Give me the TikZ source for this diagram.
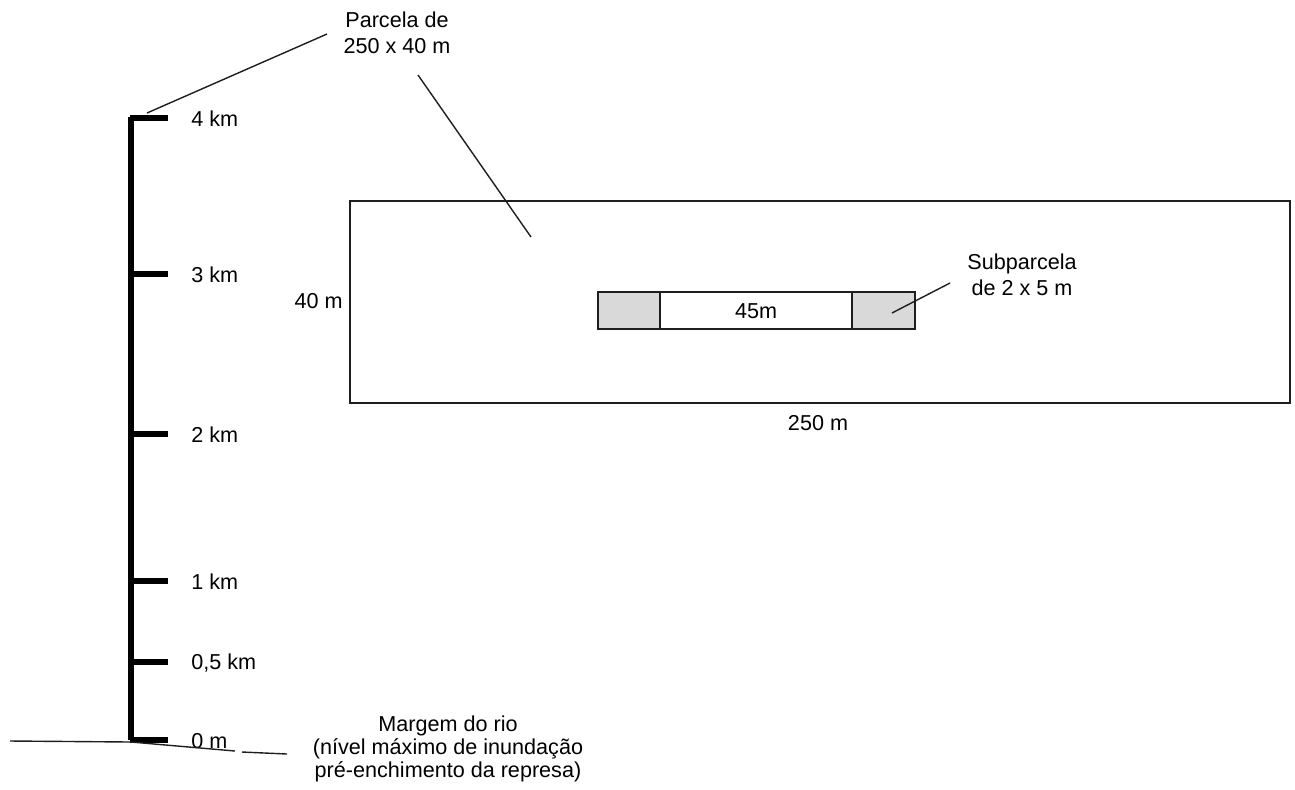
\documentclass[tikz,border=0pt]{standalone}
\usepackage{fontspec}
\setmainfont{Liberation Sans}
\usepackage{xcolor}
\definecolor{subgray}{RGB}{217,217,217}
\definecolor{inkline}{RGB}{30,30,30}

\begin{document}
\begin{tikzpicture}[x=0.5pt,y=-0.5pt,
    every node/.style={font=\fontsize{10.8}{12.8}\selectfont, inner sep=1pt},
    axisline/.style={line width=2.8pt},
    thin line/.style={draw=inkline, line width=0.7pt},
    subbox/.style={thin line, fill=subgray}
    ]
    \useasboundingbox (0,0) rectangle (1295,789);
    % eixo de distancias
    \draw[axisline] (131,740) -- (131,116.5);
    \foreach \y/\txt/\nm in {118/4 km/t4, 274/3 km/t3, 434/2 km/t2,
                             581/1 km/t1, 662/{0,5 km}/th, 740/0 m/t0}
        {
            \draw[axisline] (130,\y) -- (168,\y);
            \node[anchor=west] (\nm) at (189,\y+1) {\txt};
        }
    % margem do rio
    \coordinate (g1) at (10,741);
    \coordinate (g2) at (131,742);
    \coordinate (g3) at (235,751);
    \coordinate (g4) at (242,752);
    \coordinate (g5) at (287,754);
    \draw[thin line] (g1) -- (g2) -- (g3);
    \draw[thin line] (g4) -- (g5);
    \node[align=center, font=\fontsize{10.8}{11.6}\selectfont] (margem) at (448,749)
        {Margem do rio\\(nível máximo de inundação\\pré-enchimento da represa)};
    % parcela
    \draw[thin line] (350,201) rectangle (1290,403);
    \node[anchor=east] (alt) at (345,301) {40 m};
    \node (comp) at (818,423) {250 m};
    \node[align=center, font=\fontsize{10.8}{13.2}\selectfont] (parcela) at (397,33) {Parcela de\\250 x 40 m};
    \coordinate (topo) at (147,113);
    \coordinate (dentro) at (531,237);
    \draw[thin line] (topo) -- (327,34);
    \draw[thin line] (418,75) -- (dentro);
    % subparcelas
    \draw[subbox] (598,292) rectangle (660,329);
    \draw[thin line] (660,292) rectangle (852,329);
    \draw[subbox] (852,292) rectangle (915,329);
    \node (faixa) at (756,311) {45m};
    \node[align=center] (sub) at (1022,275) {Subparcela\\de 2 x 5 m};
    \coordinate (quad) at (892,313);
    \draw[thin line] (quad) -- (950,283);
\end{tikzpicture}
\end{document}
